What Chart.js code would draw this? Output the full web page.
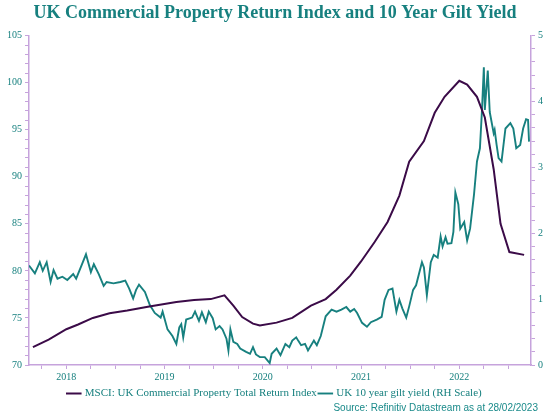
<!DOCTYPE html>
<html><head><meta charset="utf-8">
<script src="https://cdn.jsdelivr.net/npm/chart.js@4"></script>
<style>
html,body{margin:0;padding:0;background:#fff;}
#wrap{position:relative;width:550px;height:413px;}
#src{position:absolute;right:12px;bottom:0px;font:10px "Liberation Sans",Arial,sans-serif;color:#1a8a8a;}
</style></head><body>
<div id="wrap"><canvas id="c" width="550" height="413"></canvas>
<div id="src">Source: Refinitiv Datastream as at 28/02/2023</div></div>
<script>
const propDates=[2018.08,2018.24,2018.42,2018.54,2018.69,2018.86,2019.04,2019.25,2019.54,2019.72,2019.89,2020.03,2020.12,2020.21,2020.32,2020.39,2020.56,2020.72,2020.91,2021.06,2021.17,2021.31,2021.42,2021.56,2021.69,2021.81,2021.91,2022.06,2022.17,2022.27,2022.42,2022.50,2022.60,2022.68,2022.77,2022.84,2022.93,2023.08];
const propValues=[71.9,72.7,73.8,74.3,75.0,75.5,75.8,76.2,76.7,76.9,77.0,77.4,76.3,75.1,74.4,74.2,74.5,75.0,76.3,77.0,78.0,79.5,81.0,83.1,85.2,88.0,91.6,93.8,96.8,98.5,100.2,99.8,98.5,96.3,90.8,85.0,82.0,81.7];
const giltDates=[2018.04,2018.10,2018.15,2018.18,2018.22,2018.26,2018.29,2018.33,2018.38,2018.43,2018.49,2018.52,2018.58,2018.62,2018.67,2018.70,2018.75,2018.80,2018.83,2018.90,2018.97,2019.02,2019.06,2019.10,2019.13,2019.16,2019.22,2019.27,2019.32,2019.38,2019.40,2019.45,2019.50,2019.54,2019.57,2019.59,2019.61,2019.64,2019.70,2019.73,2019.77,2019.80,2019.84,2019.87,2019.91,2019.94,2019.98,2020.01,2020.05,2020.07,2020.09,2020.12,2020.16,2020.19,2020.25,2020.29,2020.32,2020.35,2020.39,2020.44,2020.49,2020.51,2020.56,2020.60,2020.65,2020.69,2020.72,2020.76,2020.78,2020.81,2020.85,2020.88,2020.94,2020.97,2021.01,2021.06,2021.12,2021.17,2021.22,2021.27,2021.31,2021.35,2021.38,2021.43,2021.48,2021.52,2021.58,2021.63,2021.66,2021.70,2021.74,2021.78,2021.81,2021.84,2021.88,2021.91,2021.95,2021.98,2022.04,2022.06,2022.09,2022.13,2022.16,2022.20,2022.23,2022.25,2022.28,2022.30,2022.34,2022.36,2022.38,2022.41,2022.43,2022.47,2022.50,2022.53,2022.57,2022.60,2022.63,2022.65,2022.67,2022.68,2022.71,2022.73,2022.77,2022.78,2022.80,2022.82,2022.85,2022.89,2022.94,2022.97,2023.00,2023.04,2023.07,2023.10,2023.12,2023.13];
const giltValues=[1.51,1.39,1.56,1.43,1.56,1.26,1.44,1.31,1.34,1.29,1.38,1.31,1.53,1.68,1.41,1.53,1.38,1.20,1.26,1.24,1.26,1.28,1.16,1.01,1.14,1.22,1.11,0.91,0.79,0.72,0.81,0.54,0.44,0.32,0.57,0.62,0.42,0.69,0.72,0.81,0.67,0.80,0.65,0.81,0.71,0.54,0.59,0.54,0.40,0.22,0.54,0.35,0.32,0.25,0.20,0.17,0.27,0.16,0.12,0.12,0.03,0.17,0.25,0.15,0.32,0.27,0.37,0.42,0.37,0.30,0.32,0.22,0.37,0.30,0.44,0.74,0.84,0.81,0.84,0.88,0.81,0.85,0.79,0.64,0.58,0.65,0.69,0.73,0.99,1.14,1.16,0.81,0.99,0.86,0.72,0.89,1.14,1.21,1.56,1.48,1.06,1.56,1.67,1.63,1.95,1.80,1.94,1.84,1.85,2.02,2.62,2.44,2.07,2.17,1.89,2.07,2.59,3.09,3.29,3.84,4.52,3.87,4.47,3.84,3.52,3.57,3.34,3.14,3.09,3.59,3.67,3.59,3.29,3.34,3.59,3.73,3.72,3.39];
const yearLabels=[2018,2019,2020,2021,2022];
const leftTicks=[70,75,80,85,90,95,100,105];
const rightTicks=[0,1,2,3,4,5];
const teal='#17807f', purple='#3b0b48', lilac='#c6a3dc';
const serif='"Liberation Serif","DejaVu Serif",serif';
const toXY=(xs,ys)=>xs.map((x,i)=>({x,y:ys[i]}));
new Chart(document.getElementById('c'),{
 type:'line',
 data:{datasets:[
  {label:'MSCI: UK Commercial Property Total Return Index',data:toXY(propDates,propValues),borderColor:purple,backgroundColor:purple,borderWidth:2,pointRadius:0,yAxisID:'y',tension:0},
  {label:'UK 10 year gilt yield (RH Scale)',data:toXY(giltDates,giltValues),borderColor:teal,backgroundColor:teal,borderWidth:1.9,pointRadius:0,yAxisID:'y1',tension:0}
 ]},
 options:{responsive:false,animation:false,
  layout:{padding:{left:4,right:4,bottom:4,top:0}},
  plugins:{
   title:{display:true,text:'UK Commercial Property Return Index and 10 Year Gilt Yield',color:teal,font:{family:serif,size:18,weight:'bold'},padding:{top:3,bottom:11}},
   legend:{position:'bottom',labels:{color:teal,font:{family:serif,size:11},usePointStyle:true,pointStyle:'line',boxWidth:30,padding:3},onClick:null},
   tooltip:{enabled:false}
  },
  scales:{
   x:{type:'linear',min:2018.04,max:2023.15,
    afterBuildTicks:s=>{const t=[];yearLabels.forEach(y=>{for(let k=-1;k<=2;k++){const v=y+0.42+k*0.25;if(v>=2018.04&&v<=2023.15)t.push({value:v,major:k===0});}});s.ticks=t;},
    ticks:{color:teal,font:{family:serif,size:10},autoSkip:false,maxRotation:0,padding:2,callback:function(v,i,t){return t[i].major?String(Math.round(v-0.42)):'';}},
    grid:{drawOnChartArea:false,color:lilac,tickLength:4},border:{color:lilac,width:1.5}},
   y:{position:'left',min:70,max:105,
    afterBuildTicks:s=>{const t=[];for(let v=70;v<=105;v++)t.push({value:v});s.ticks=t;},
    ticks:{color:teal,font:{family:serif,size:10},autoSkip:false,callback:v=>leftTicks.includes(v)?String(v):''},
    grid:{drawOnChartArea:false,color:lilac,tickLength:4},border:{color:lilac,width:1.5}},
   y1:{position:'right',min:0,max:5,
    afterBuildTicks:s=>{const t=[];for(let i=0;i<=25;i++)t.push({value:i/5});s.ticks=t;},
    ticks:{color:teal,font:{family:serif,size:10},autoSkip:false,callback:v=>{const r=Math.round(v*5);return r%5===0?String(r/5):'';}},
    grid:{drawOnChartArea:false,color:lilac,tickLength:4},border:{color:lilac,width:1.5}}
  }}
});
</script></body></html>
